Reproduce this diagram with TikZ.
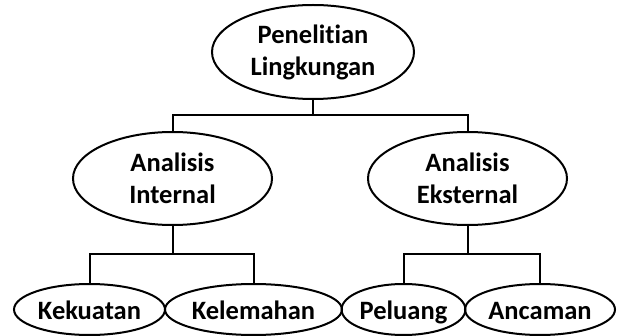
\documentclass[tikz,border=0pt]{standalone}
\usepackage{fontspec}
\setmainfont{Carlito}[Ligatures=NoCommon]
\usetikzlibrary{shapes.geometric}
\tikzset{
  oval/.style={draw=black, line width=2pt, ellipse, inner sep=0pt, align=center,
    font=\fontsize{26.5}{32}\selectfont\bfseries},
  single/.style={text height=20pt, text depth=0pt},
  link/.style={draw=black, line width=2pt}
}
\begin{document}
\begin{tikzpicture}[x=1pt,y=-1pt]
\useasboundingbox (0,0) rectangle (620,336);
\node[oval, minimum width=202pt, minimum height=94pt] (top) at (313,52) {Penelitian\\Lingkungan};
\node[oval, minimum width=199pt, minimum height=93pt] (mL) at (172.5,178.5) {Analisis\\Internal};
\node[oval, minimum width=199pt, minimum height=93pt] (mR) at (467.5,178.5) {Analisis\\Eksternal};
\node[oval, single, minimum width=151pt, minimum height=51pt] (b1) at (89.5,309.5) {Kekuatan};
\node[oval, single, minimum width=177pt, minimum height=51pt] (b2) at (253.5,309.5) {Kelemahan};
\node[oval, single, minimum width=123pt, minimum height=51pt] (b3) at (403.5,309.5) {Peluang};
\node[oval, single, minimum width=150pt, minimum height=51pt] (b4) at (540,309.5) {Ancaman};
\coordinate (j1) at (313,115);
\coordinate (j2) at (172.5,254);
\coordinate (j3) at (467.5,254);
\draw[link] (top.south) -- (j1);
\draw[link] (mL.north) |- (j1) -| (mR.north);
\draw[link] (mL.south) -- (j2);
\draw[link] (b1.north) |- (j2) -| (b2.north);
\draw[link] (mR.south) -- (j3);
\draw[link] (b3.north) |- (j3) -| (b4.north);
\end{tikzpicture}
\end{document}
